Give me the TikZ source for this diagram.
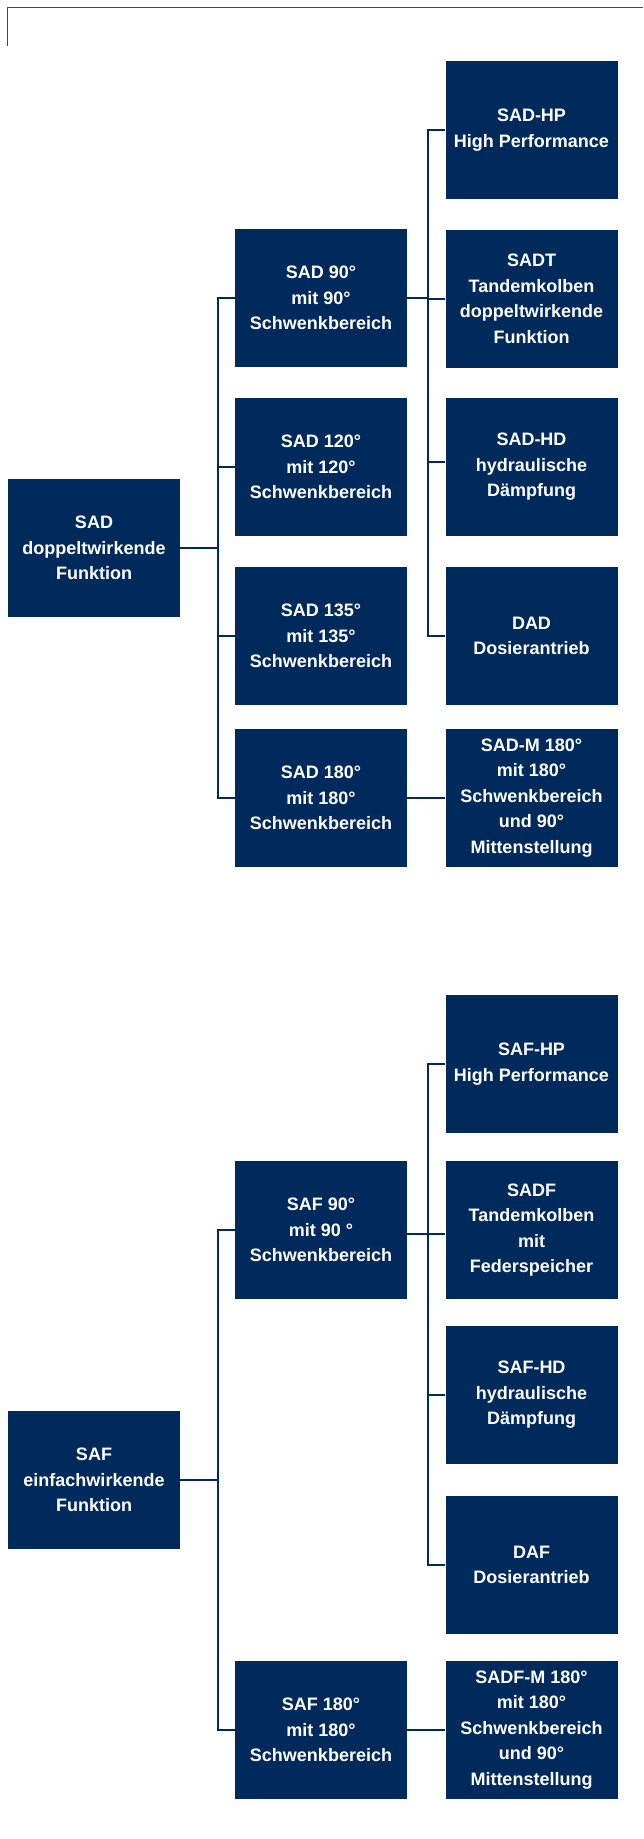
\documentclass[tikz,border=0pt]{standalone}
\usepackage{fontspec}
\setmainfont{Liberation Sans}
\definecolor{navy}{RGB}{0,42,92}
\definecolor{framecol}{RGB}{35,75,125}
\begin{document}
\begin{tikzpicture}[x=1pt,y=-1pt,
  box/.style={rectangle, fill=navy, text=white, minimum width=172pt, minimum height=138pt,
    inner sep=0pt, align=center, font=\fontsize{18}{25.5}\selectfont\bfseries},
  conn/.style={draw=navy, line width=2pt},
  frameline/.style={draw=framecol, line width=1.3pt}]
\useasboundingbox (0,0) rectangle (643,1839);

% top-left frame
\coordinate (fa) at (7.5,45.7);
\coordinate (fb) at (7.5,7.7);
\coordinate (fc) at (643,7.7);
\draw[frameline] (fa) -- (fb) -- (fc);

% ---------- SAD ----------
\node[box] (sad) at (94,548) {SAD\\doppeltwirkende\\Funktion};
\node[box] (sad90) at (321,298) {SAD 90°\\mit 90°\\Schwenkbereich};
\node[box] (sad120) at (321,467) {SAD 120°\\mit 120°\\Schwenkbereich};
\node[box] (sad135) at (321,636) {SAD 135°\\mit 135°\\Schwenkbereich};
\node[box] (sad180) at (321,798) {SAD 180°\\mit 180°\\Schwenkbereich};
\node[box] (sadhp) at (531.5,130) {SAD-HP\\High Performance};
\node[box] (sadt) at (531.5,299) {SADT\\Tandemkolben\\doppeltwirkende\\Funktion};
\node[box] (sadhd) at (531.5,467) {SAD-HD\\hydraulische\\Dämpfung};
\node[box] (dad) at (531.5,636) {DAD\\Dosierantrieb};
\node[box] (sadm) at (531.5,798) {SAD-M 180°\\mit 180°\\Schwenkbereich\\und 90°\\Mittenstellung};

\coordinate (j1) at (217.7,548);
\coordinate (j2) at (428,298);
\draw[conn] (sad.east) -- (j1);
\draw[conn] (sad90.west) -| (j1) |- (sad180.west);
\draw[conn] (sad120.west) -- (sad120.west -| j1);
\draw[conn] (sad135.west) -- (sad135.west -| j1);
\draw[conn] (sad90.east) -- (j2);
\draw[conn] (sadhp.west) -| (j2) |- (dad.west);
\draw[conn] (sadt.west) -- (sadt.west -| j2);
\draw[conn] ([yshift=5pt]sadhd.west) -- ([yshift=5pt]sadhd.west -| j2);
\draw[conn] (sad180.east) -- (sadm.west);

% ---------- SAF ----------
\node[box] (saf) at (94,1480) {SAF\\einfachwirkende\\Funktion};
\node[box] (saf90) at (321,1230) {SAF 90°\\mit 90 °\\Schwenkbereich};
\node[box] (saf180) at (321,1730) {SAF 180°\\mit 180°\\Schwenkbereich};
\node[box] (safhp) at (531.5,1064) {SAF-HP\\High Performance};
\node[box] (sadf) at (531.5,1230) {SADF\\Tandemkolben\\mit\\Federspeicher};
\node[box] (safhd) at (531.5,1395) {SAF-HD\\hydraulische\\Dämpfung};
\node[box] (daf) at (531.5,1565) {DAF\\Dosierantrieb};
\node[box] (sadfm) at (531.5,1730) {SADF-M 180°\\mit 180°\\Schwenkbereich\\und 90°\\Mittenstellung};

\coordinate (k1) at (217.7,1480);
\coordinate (k2) at (428,1234);
\draw[conn] (saf.east) -- (k1);
\draw[conn] (saf90.west) -| (k1) |- (saf180.west);
\draw[conn] ([yshift=-4pt]saf90.east) -- (k2);
\draw[conn] (safhp.west) -| (k2) |- (daf.west);
\draw[conn] ([yshift=-4pt]sadf.west) -- ([yshift=-4pt]sadf.west -| k2);
\draw[conn] (safhd.west) -- (safhd.west -| k2);
\draw[conn] (saf180.east) -- (sadfm.west);
\end{tikzpicture}
\end{document}
